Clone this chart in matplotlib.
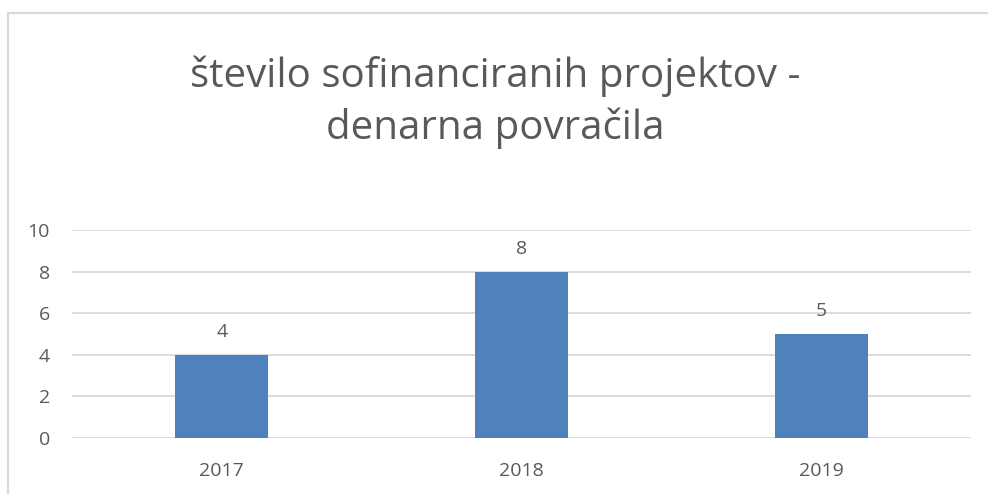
import matplotlib.pyplot as plt
from matplotlib.lines import Line2D

plt.rcParams['font.family'] = ['Open Sans', 'DejaVu Sans']

years = ["2017", "2018", "2019"]
projekti = [4, 8, 5]
titulo = "število sofinanciranih projektov -\ndenarna povračila"

gris = "#595959"

fig = plt.figure(figsize=(9.88, 4.94), dpi=100)
ax = fig.add_axes([72/988, 1-438/494, (971-72)/988, (438-230)/494])

x = list(range(len(years)))
barras = ax.bar(x, projekti, width=0.31, color="#4f81bd", zorder=3)
for b, v in zip(barras, projekti):
    ax.text(b.get_x() + b.get_width()/2, v + 0.65, str(v), ha="center", va="bottom",
            fontsize=14, color=gris)

ax.set_xlim(-0.5, 2.5)
ax.set_ylim(0, 10)
ax.set_yticks([0, 2, 4, 6, 8, 10])
ax.set_xticks(x)
ax.set_xticklabels(years)
ax.grid(axis="y", color="#d9d9d9", linewidth=1.3, zorder=0)
for s in ax.spines.values():
    s.set_visible(False)
ax.tick_params(length=0, labelsize=14, labelcolor=gris)
ax.tick_params(axis="y", pad=16)
ax.tick_params(axis="x", pad=17)

fig.text(495/988, 1-102/494, titulo, ha="center", va="center", fontsize=29,
         color=gris, linespacing=1.32)

# marco del grafico
fig.add_artist(Line2D([8/988, 8/988], [0, 1-13.5/494], transform=fig.transFigure,
                      color="#d9d9d9", linewidth=1.5))
fig.add_artist(Line2D([8/988, 1], [1-13.5/494, 1-13.5/494], transform=fig.transFigure,
                      color="#d9d9d9", linewidth=1.5))

plt.savefig("out.png", dpi=100)
